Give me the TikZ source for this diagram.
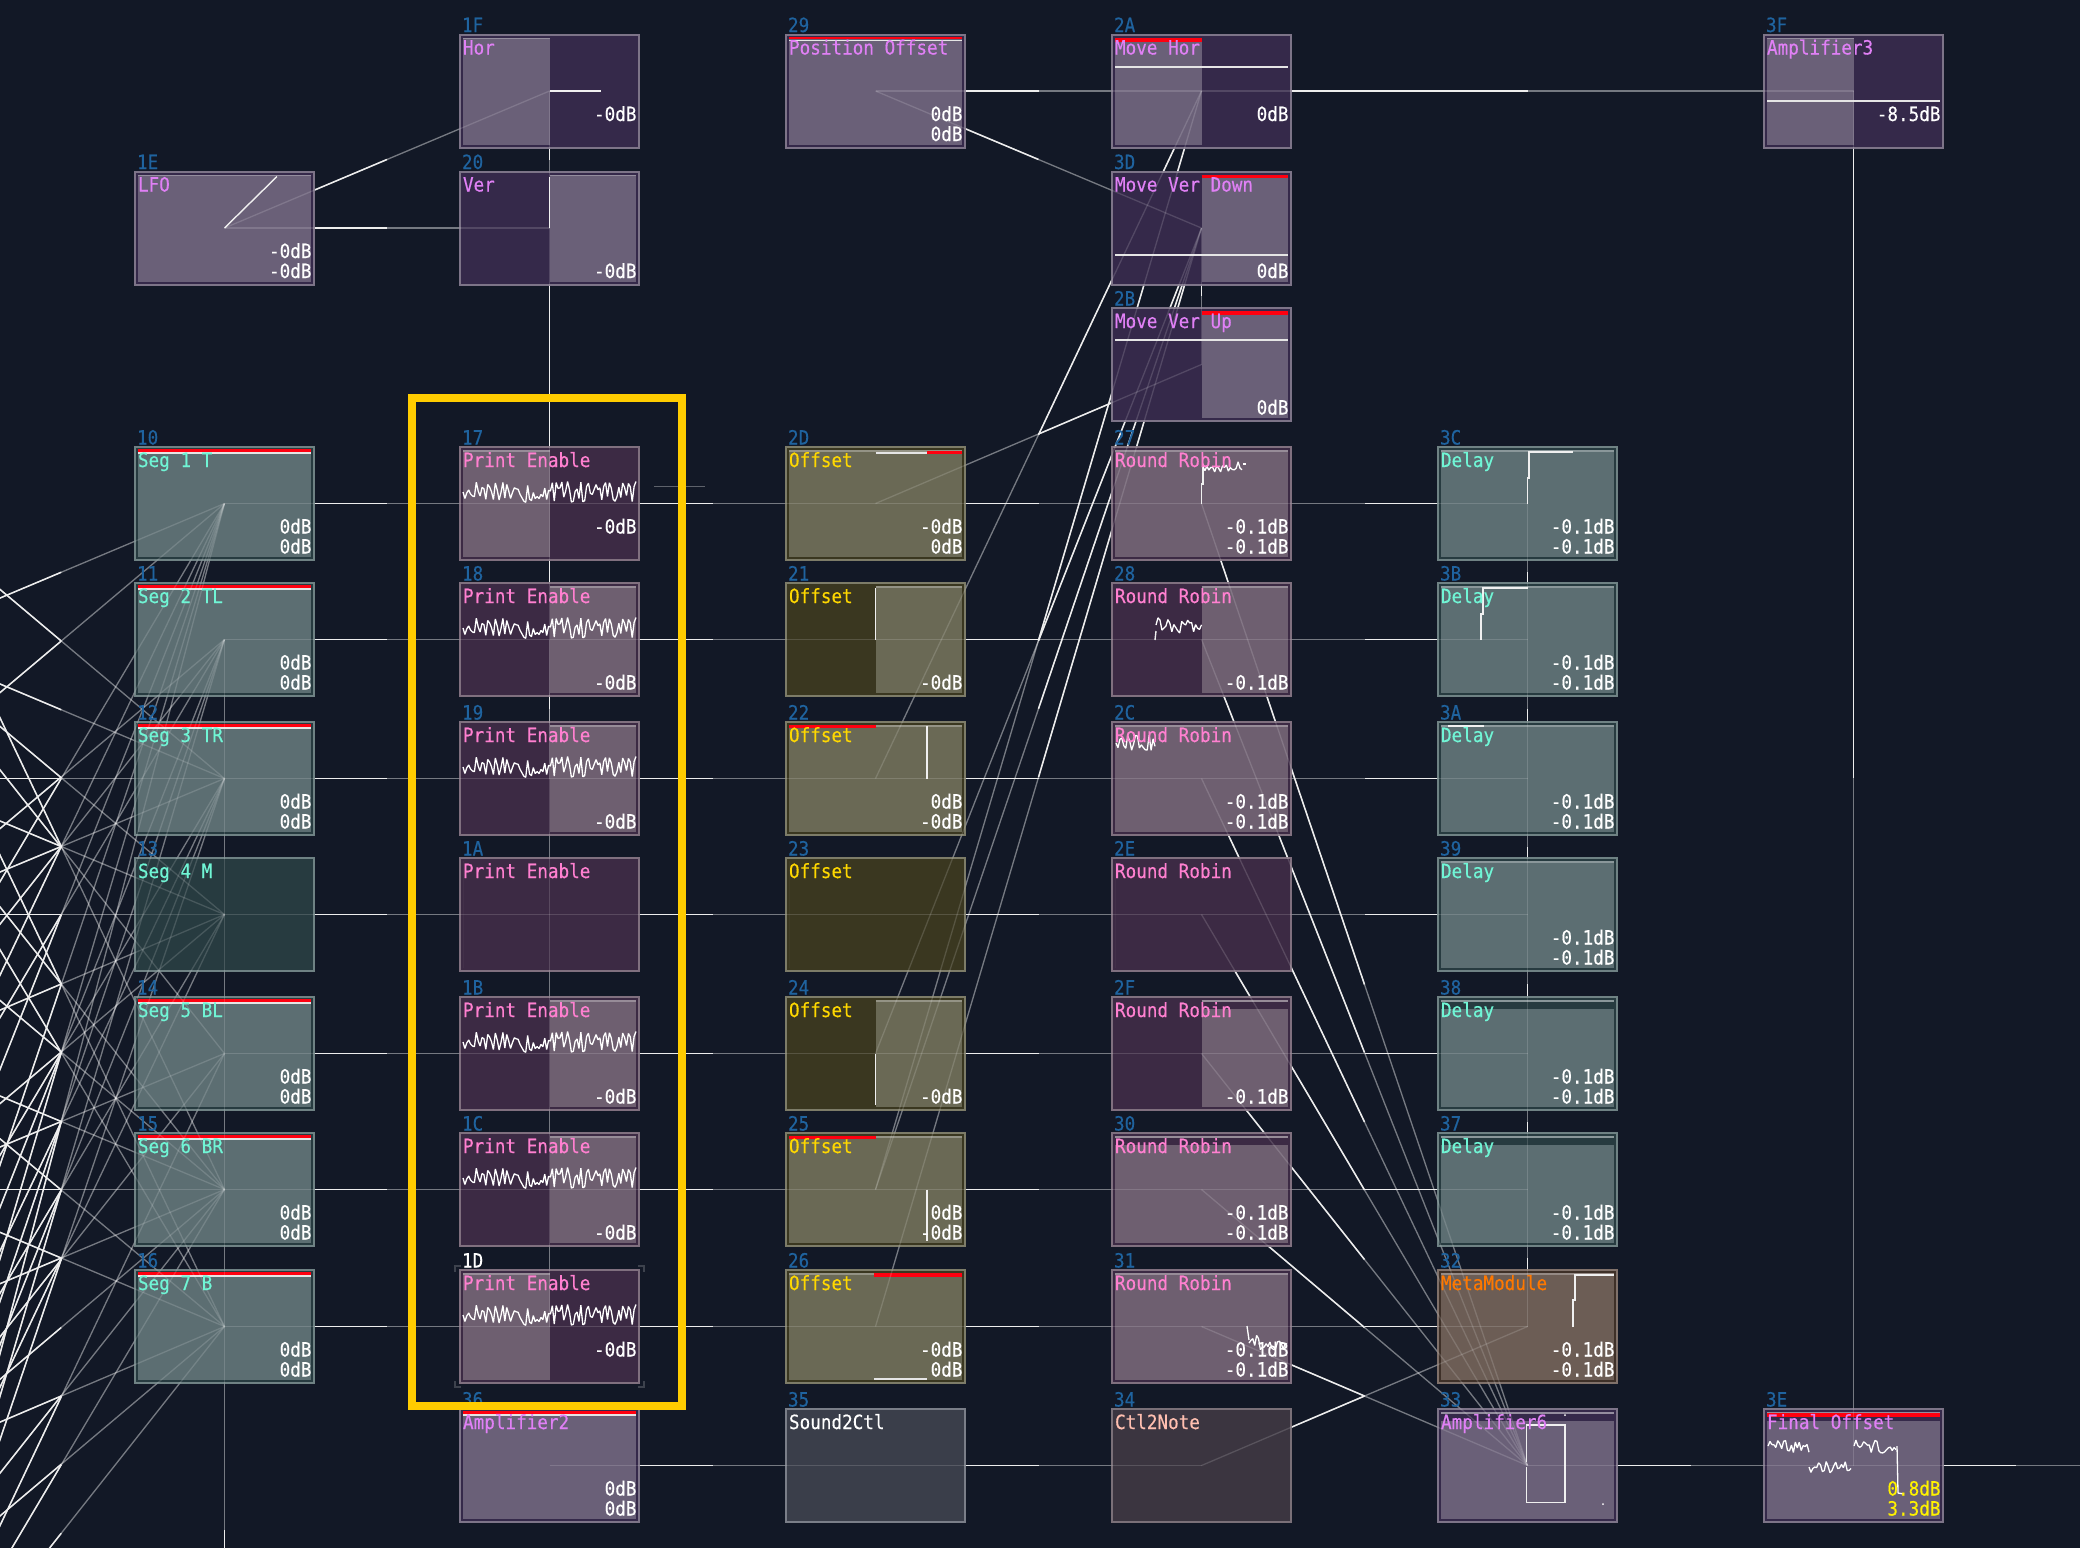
\documentclass[tikz,border=0pt]{standalone}
\usepackage{fontspec}
\usetikzlibrary{calc}
\newfontfamily\pxf[FakeStretch=0.9,FakeBold=0.35]{DejaVu Sans Mono}
\definecolor{bgc}{HTML}{121826}
\definecolor{idblue}{HTML}{1F639F}
\definecolor{redbar}{HTML}{FF0010}
\definecolor{selyel}{HTML}{FFCC00}
\definecolor{ampL}{HTML}{6A6078}\definecolor{ampD}{HTML}{35294A}\definecolor{ampB}{HTML}{7D7488}\definecolor{ampT}{HTML}{E080F5}
\definecolor{pkL}{HTML}{6E5F70}\definecolor{pkD}{HTML}{3C2A44}\definecolor{pkB}{HTML}{80707F}\definecolor{pkT}{HTML}{FF80D0}
\definecolor{segL}{HTML}{5C6E72}\definecolor{segD}{HTML}{273B40}\definecolor{segB}{HTML}{6F8284}\definecolor{segT}{HTML}{70F5D5}
\definecolor{offL}{HTML}{6A6955}\definecolor{offD}{HTML}{3A3720}\definecolor{offB}{HTML}{7D7C68}\definecolor{offT}{HTML}{FFD800}
\definecolor{metL}{HTML}{6C5D55}\definecolor{metD}{HTML}{3E3028}\definecolor{metB}{HTML}{80716A}\definecolor{metT}{HTML}{FF7800}
\definecolor{sndL}{HTML}{3A3E4A}\definecolor{sndD}{HTML}{3A3E4A}\definecolor{sndB}{HTML}{7A7E88}\definecolor{sndT}{HTML}{FFFFFF}
\definecolor{ctlL}{HTML}{3B3540}\definecolor{ctlD}{HTML}{3B3540}\definecolor{ctlB}{HTML}{7A7078}\definecolor{ctlT}{HTML}{FFBFB0}
\pgfdeclarelayer{bgl}\pgfdeclarelayer{lo}\pgfdeclarelayer{hi}\pgfdeclarelayer{txt}\pgfdeclarelayer{frm}
\pgfsetlayers{bgl,lo,main,hi,txt,frm}
\tikzset{
  modnode/.style={rectangle,inner sep=0pt,outer sep=0pt,minimum width=179pt,minimum height=113pt,line width=2pt},
  txtbase/.style={inner sep=0pt,outer sep=0pt,font=\pxf\fontsize{19.6}{22}\selectfont},
  brightline/.style={draw=white!92!black,line width=1.5pt},
  dimline/.style={draw=white,opacity=.32,line width=1.3pt},
  dimover/.style={draw=white,opacity=.15,line width=1.3pt},
  scope line/.style={draw=white!94!black,line width=1.8pt,line join=miter},
  wave/.style={draw=white,line width=1.3pt,line join=bevel},
  redb/.style={draw=redbar,line width=2.4pt},
  whb/.style={draw=white!90!black,line width=1.6pt},
  selframe/.style={draw=selyel,line width=8pt,rectangle,inner sep=0pt,minimum width=270pt,minimum height=1007.5pt},
}
\def\parselit#1,#2,#3\relax{\def\lxa{#1}\def\lxb{#2}\def\lya{#3}}
\def\idcol{idblue}
% id, cx, cy, type, lit spec, title, v1, v2
\newcommand\modu[8]{%
  \parselit#5\relax
  \node[modnode,draw=#4B,fill=#4D] (m#1) at (#2,#3) {};
  \begin{scope}[shift={(m#1.north west)}]
    \fill[#4L] (\lxa,\lya) rectangle (\lxb,110);
    \draw[#4L!72!white,line width=1.5pt] (\lxa,4) -- (\lxb,4);
  \end{scope}
  \begin{pgfonlayer}{txt}
    \begin{scope}[shift={(m#1.north west)}]
      \node[txtbase,anchor=base west,text=\idcol] (i#1) at (2,-2.5) {#1};
      \node[txtbase,anchor=base west,text=#4T] (t#1) at (3,20) {#6};
      \if\relax\detokenize{#7}\relax\else\node[txtbase,anchor=base east,text=\valcol] (a#1) at (176.5,86.5) {#7};\fi
      \if\relax\detokenize{#8}\relax\else\node[txtbase,anchor=base east,text=\valcol] (b#1) at (176.5,106.5) {#8};\fi
    \end{scope}
  \end{pgfonlayer}
}
\def\valcol{white}
% x0, x1, y centre, amplitude, seed
\newcommand\noisew[5]{%
  \pgfmathsetseed{#5}%
  \pgfmathsetmacro\nstep{(#2-#1)/int((#2-#1)/1.9)}%
  \pgfmathtruncatemacro\ncnt{int((#2-#1)/1.9)}%
  \draw[wave] (#1,#3) foreach \i in {1,...,\ncnt} { -- ({#1+\i*\nstep},{#3+#4*rand}) };
}
\newcommand\inmod[2]{\begin{scope}[shift={(m#1.north west)}]#2\end{scope}}
\def\edges{m10/m17,m11/m18,m12/m19,m13/m1A,m14/m1B,m15/m1C,m16/m1D,
m17/m2D,m18/m21,m19/m22,m1A/m23,m1B/m24,m1C/m25,m1D/m26,
m2D/m27,m21/m28,m22/m2C,m23/m2E,m24/m2F,m25/m30,m26/m31,
m3C/m27,m3B/m28,m3A/m2C,m39/m2E,m38/m2F,m37/m30,m32/m31,
m3B/m3C,m3A/m3B,m39/m3A,m38/m39,m37/m38,m32/m37,m34/m32,m35/m34,m36/m35,
m27/m33,m28/m33,m2C/m33,m2E/m33,m2F/m33,m30/m33,m31/m33,
m33/m3E,m3E/outr,m2A/m3F,m3F/m3E,m29/m2A,m29/m3D,m1E/m1F,m1E/m20,m1F/m20,m3D/m2B,
m20/m1B,m18/m19,
m2B/m2D,m2A/m22,m2A/m25,m3D/m24,m3D/m25,m3D/m26,
lowv/m11,
d0/m10,d2/m10,d3/m10,d5/m10,d6/m10,d7/m10,d8/m10,d9/m10,
d0/m11,d4/m11,d5/m11,d6/m11,d8/m11,d9/m11,
d0/m12,d1/m12,d2/m12,d3/m12,d4/m12,d7/m12,d8/m12,d9/m12,
d2/m13,d3/m13,d4/m13,d5/m13,d6/m13,d8/m13,d9/m13,
d0/m14,d2/m14,d6/m14,d8/m14,
d0/m15,d1/m15,d3/m15,d4/m15,d5/m15,d6/m15,d7/m15,d8/m15,d9/m15,
d0/m16,d2/m16,d3/m16,d5/m16,d6/m16,d8/m16,d9/m16}
\begin{document}
\begin{tikzpicture}[x=1pt,y=-1pt]
\useasboundingbox (0,0) rectangle (2080,1548);
\begin{pgfonlayer}{bgl}\fill[bgc] (0,0) rectangle (2080,1548);\end{pgfonlayer}
% free ends
\coordinate (d1) at (-102,503.5);\coordinate (d2) at (-102,641);\coordinate (d3) at (-102,778.5);
\coordinate (d4) at (-102,914.5);\coordinate (d5) at (-102,1053.5);\coordinate (d6) at (-102,1189.5);
\coordinate (d7) at (-102,1326.5);\coordinate (d8) at (-102,1465.5);\coordinate (d9) at (-102,1602);
\coordinate (d0) at (-102,1740);\coordinate (lowv) at (224.5,2421);\coordinate (outr) at (2179,1465.5);
% column A
\modu{1E}{224.5}{228}{amp}{3,176,3}{LFO}{-0dB}{-0dB}
\modu{10}{224.5}{503.5}{seg}{3,176,3}{Seg 1 T}{0dB}{0dB}
\modu{11}{224.5}{639.5}{seg}{3,176,3}{Seg 2 TL}{0dB}{0dB}
\modu{12}{224.5}{778.5}{seg}{3,176,3}{Seg 3 TR}{0dB}{0dB}
\modu{13}{224.5}{914.5}{seg}{3,3,3}{Seg 4 M}{}{}
\modu{14}{224.5}{1053.5}{seg}{3,176,3}{Seg 5 BL}{0dB}{0dB}
\modu{15}{224.5}{1189.5}{seg}{3,176,3}{Seg 6 BR}{0dB}{0dB}
\modu{16}{224.5}{1326.5}{seg}{3,176,3}{Seg 7 B}{0dB}{0dB}
% column B
\modu{1F}{549.5}{91}{amp}{3,89.5,3}{Hor}{-0dB}{}
\modu{20}{549.5}{228}{amp}{89.5,176,3}{Ver}{}{-0dB}
\modu{17}{549.5}{503.5}{pk}{3,89.5,3}{Print Enable}{-0dB}{}
\modu{18}{549.5}{639.5}{pk}{89.5,176,3}{Print Enable}{}{-0dB}
\modu{19}{549.5}{778.5}{pk}{89.5,176,3}{Print Enable}{}{-0dB}
\modu{1A}{549.5}{914.5}{pk}{3,3,3}{Print Enable}{}{}
\modu{1B}{549.5}{1053.5}{pk}{89.5,176,3}{Print Enable}{}{-0dB}
\modu{1C}{549.5}{1189.5}{pk}{89.5,176,3}{Print Enable}{}{-0dB}
{\def\idcol{white}\modu{1D}{549.5}{1326.5}{pk}{3,89.5,3}{Print Enable}{-0dB}{}}
\modu{36}{549.5}{1465.5}{amp}{3,176,3}{Amplifier2}{0dB}{0dB}
% column C
\modu{29}{875.5}{91}{amp}{3,176,3}{Position Offset}{0dB}{0dB}
\modu{2D}{875.5}{503.5}{off}{3,176,3}{Offset}{-0dB}{0dB}
\modu{21}{875.5}{639.5}{off}{89.5,176,3}{Offset}{}{-0dB}
\modu{22}{875.5}{778.5}{off}{3,176,3}{Offset}{0dB}{-0dB}
\modu{23}{875.5}{914.5}{off}{3,3,3}{Offset}{}{}
\modu{24}{875.5}{1053.5}{off}{89.5,176,3}{Offset}{}{-0dB}
\modu{25}{875.5}{1189.5}{off}{3,176,3}{Offset}{0dB}{-0dB}
\modu{26}{875.5}{1326.5}{off}{3,176,3}{Offset}{-0dB}{0dB}
\modu{35}{875.5}{1465.5}{snd}{3,3,3}{Sound2Ctl}{}{}
% column D
\modu{2A}{1201.5}{91}{amp}{3,89.5,3}{Move Hor}{0dB}{}
\modu{3D}{1201.5}{228}{amp}{89.5,176,3}{Move Ver Down}{}{0dB}
\modu{2B}{1201.5}{364.5}{amp}{89.5,176,3}{Move Ver Up}{}{0dB}
\modu{27}{1201.5}{503.5}{pk}{3,176,3}{Round Robin}{-0.1dB}{-0.1dB}
\modu{28}{1201.5}{639.5}{pk}{89.5,176,3}{Round Robin}{}{-0.1dB}
\modu{2C}{1201.5}{778.5}{pk}{3,176,3}{Round Robin}{-0.1dB}{-0.1dB}
\modu{2E}{1201.5}{914.5}{pk}{3,3,3}{Round Robin}{}{}
\modu{2F}{1201.5}{1053.5}{pk}{89.5,176,12}{Round Robin}{}{-0.1dB}
\modu{30}{1201.5}{1189.5}{pk}{3,176,12}{Round Robin}{-0.1dB}{-0.1dB}
\modu{31}{1201.5}{1326.5}{pk}{3,176,3}{Round Robin}{-0.1dB}{-0.1dB}
\modu{34}{1201.5}{1465.5}{ctl}{3,3,3}{Ctl2Note}{}{}
% column E
\modu{3C}{1527.5}{503.5}{seg}{3,176,3}{Delay}{-0.1dB}{-0.1dB}
\modu{3B}{1527.5}{639.5}{seg}{3,176,3}{Delay}{-0.1dB}{-0.1dB}
\modu{3A}{1527.5}{778.5}{seg}{3,176,3}{Delay}{-0.1dB}{-0.1dB}
\modu{39}{1527.5}{914.5}{seg}{3,176,3}{Delay}{-0.1dB}{-0.1dB}
\modu{38}{1527.5}{1053.5}{seg}{3,176,12}{Delay}{-0.1dB}{-0.1dB}
\modu{37}{1527.5}{1189.5}{seg}{3,176,12}{Delay}{-0.1dB}{-0.1dB}
\modu{32}{1527.5}{1326.5}{met}{3,176,3}{MetaModule}{-0.1dB}{-0.1dB}
\modu{33}{1527.5}{1465.5}{amp}{3,176,12}{Amplifier6}{}{}
% column F
\modu{3F}{1853.5}{91}{amp}{3,89.5,3}{Amplifier3}{-8.5dB}{}
{\def\valcol{yellow}\modu{3E}{1853.5}{1465.5}{amp}{3,176,12}{Final Offset}{0.8dB}{3.3dB}}
% bars
\foreach \m in {10,11,12,14,15,16,29,36}{\inmod{\m}{\draw[redb] (3,3.5)--(176,3.5);\draw[whb] (3,5.8)--(176,5.8);}}
\inmod{2D}{\draw[whb,line width=2pt] (89.5,5.5)--(141,5.5);\draw[redb,line width=3pt] (141,5)--(176,5);}
\inmod{22}{\draw[redb,line width=3pt] (3,4.5)--(89.5,4.5);}
\inmod{25}{\draw[redb,line width=3pt] (3,4.5)--(89.5,4.5);}
\inmod{26}{\draw[redb,line width=3.4pt] (88,5)--(176,5);\draw[whb,line width=2pt] (88,109)--(141,109);}
\inmod{2A}{\draw[redb,line width=4pt] (3,5)--(89.5,5);\draw[whb,line width=2pt] (3,32)--(176,32);}
\inmod{3D}{\draw[redb,line width=3.2pt] (89.5,5)--(176,5);\draw[whb,line width=2pt] (3,83)--(176,83);}
\inmod{2B}{\draw[redb,line width=3.2pt] (89.5,5)--(176,5);\draw[whb,line width=2pt] (3,32)--(176,32);}
\inmod{3E}{\draw[redb,line width=4pt] (3,6)--(176,6);}
\inmod{3F}{\draw[whb,line width=2pt] (3,66)--(176,66);}
% scopes
\inmod{1E}{\draw[scope line,line width=1.4pt] (89.5,56.5)--(142,5);}
\inmod{1F}{\draw[scope line] (89.5,56.5)--(141,56.5);}
\inmod{20}{\draw[scope line] (89.5,56.5)--(89.5,5);}
\foreach \m in {17,18,19,1B,1C,1D}{\inmod{\m}{\noisew{3}{176}{45}{10.5}{4242}}}
\inmod{21}{\draw[scope line] (89.5,56.5)--(89.5,5);}
\inmod{22}{\draw[scope line] (141,56.5)--(141,4);}
\inmod{24}{\draw[scope line] (89.5,56.5)--(89.5,108);}
\inmod{25}{\draw[scope line] (141,56.5)--(141,108);}
\inmod{27}{\draw[scope line,line width=1.4pt] (89.5,56.5)--(89.5,37)--(91,37)--(91,17);\noisew{91}{130}{20}{6}{77}\draw[wave] (131,17)--(134,17);}
\inmod{28}{\draw[scope line,line width=1.4pt] (43,57)--(44,48);\noisew{44}{89.5}{42}{8}{31}}
\inmod{2C}{\noisew{4}{43}{21}{8}{52}}
\inmod{31}{\draw[wave] (135,56)--(137,70);\noisew{137}{175}{73}{8}{19}}
\inmod{3C}{\draw[scope line] (89.5,56.5)--(89.5,31)--(91,31)--(91,5)--(135,5);}
\inmod{3B}{\draw[scope line] (43,56.5)--(43,31)--(45,31)--(45,5)--(89.5,5);}
\inmod{3A}{\draw[scope line,line width=1.4pt] (10,4)--(46,4);}
\inmod{32}{\draw[scope line] (135,57)--(135,30)--(137,30)--(137,5)--(176,5);}
\inmod{33}{\draw[scope line] (88.5,53)--(88.5,16)--(127,16)--(127,93.5)--(88.5,93.5)--(88.5,58);
  \fill[white] (127,6) circle (1pt);\fill[white] (165,95) circle (1pt);}
\inmod{3E}{\noisew{4}{45}{37}{7}{61}\noisew{45}{87}{58}{6}{63}\noisew{90}{132}{37}{7}{65}\draw[wave] (133,37)--(134,84)--(140,85);}
% selection marks
\inmod{1D}{\foreach \sx/\sy/\dx/\dy in {-5/-4/1/1,184/-4/-1/1,-5/117/1/-1,184/117/-1/-1}{
  \draw[draw=white!18!bgc,line width=2pt] (\sx+\dx*6,\sy)--(\sx,\sy)--(\sx,\sy+\dy*6);}}
% connectors
\begin{pgfonlayer}{lo}
\begin{scope}
\clip (0,0) rectangle (2080,1548);
\foreach \a/\b in \edges {\draw[dimline] (\a.center) -- (\b.center);}
\foreach \a/\b in \edges {\draw[brightline] (\a.center) -- ($(\a.center)!.5!(\b.center)$);}
\draw[dimline] (m1B.center) -- (m1D.center);
\end{scope}
\end{pgfonlayer}
\begin{pgfonlayer}{hi}
\begin{scope}
\clip (0,0) rectangle (2080,1548);
\foreach \a/\b in \edges {\draw[dimover] (\a.center) -- (\b.center);}
\draw[dimover] (m1B.center) -- (m1D.center);
\coordinate (tka) at (654,486.5);\coordinate (tkb) at (705,486.5);
\draw[dimline] (tka) -- (tkb);
\end{scope}
\end{pgfonlayer}
\begin{pgfonlayer}{frm}
\node[selframe] (sel) at (547,901.75) {};
\end{pgfonlayer}
\end{tikzpicture}
\end{document}
